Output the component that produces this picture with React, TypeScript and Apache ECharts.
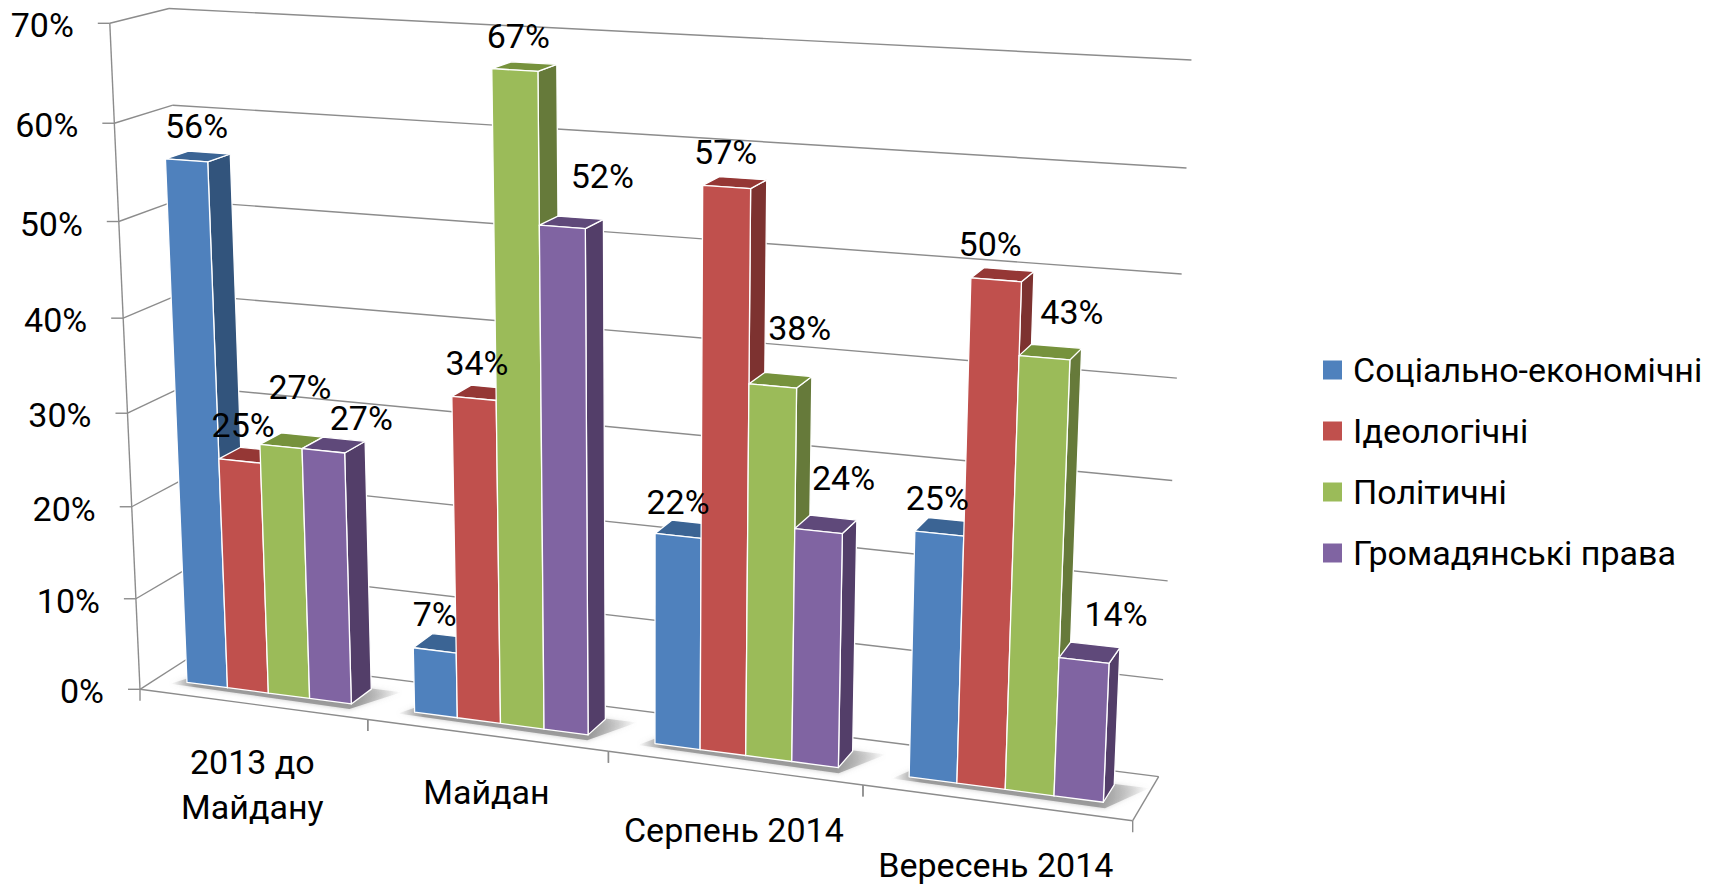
import React, { useEffect, useRef } from "react";
import * as echarts from "echarts";

const categories = ["2013 до\nМайдану", "Майдан", "Серпень 2014", "Вересень 2014"];
const seriesNames = ["Соціально-економічні", "Ідеологічні", "Політичні", "Громадянські права"];
const socioEconomic = [56, 7, 22, 25];
const ideological = [25, 34, 57, 50];
const political = [27, 67, 38, 43];
const civilRights = [27, 52, 24, 14];
const valueTicks = [0, 10, 20, 30, 40, 50, 60, 70];

const seriesValues = [socioEconomic, ideological, political, civilRights];
const frontColors = ["#4F81BD", "#C0504D", "#9BBB59", "#8064A2"];
const sideColors = ["#32547C", "#7D3230", "#667A3A", "#533E69"];
const topColors = ["#3B6494", "#953735", "#76923C", "#5F497A"];

// label placement relative to the top of each bar's front face (series, then category)
const labelShift = [
  [[10, -34], [0, -36], [0, -34], [-2, -36]],
  [[3.5, -36], [3, -35], [-1, -35], [-6, -36]],
  [[19, -60], [3.5, -34], [27, -58], [27.5, -46]],
  [[38, -32.5], [40, -51], [25, -53], [32, -46]],
];
const categoryLabelShift = [59, 58, 64, 64];

const FONT = "Roboto";
const FS = 34;
const GRID = "#8C8C8C";

// projective camera: corners of the 3D box on the page
const A = [140, 689.3];
const E = [1132.7, 820.7];
const B = [109.8, 23.3];
const C = [195, 654];
const wE = 0.8935;
const wB = 0.944;
const wC = 1.033;

function project(u: number, v: number, w: number): number[] {
  const x = A[0] + u * (wE * E[0] - A[0]) + v * (wB * B[0] - A[0]) + w * (wC * C[0] - A[0]);
  const y = A[1] + u * (wE * E[1] - A[1]) + v * (wB * B[1] - A[1]) + w * (wC * C[1] - A[1]);
  const d = 1 + u * (wE - 1) + v * (wB - 1) + w * (wC - 1);
  return [x / d, y / d];
}

const BAR_U = 0.25 / 5.5;
const W_FRONT = 0.3;
const W_BACK = 0.7;

function norm(api: any, params: any, cat: number, val: number) {
  const rect = params.coordSys;
  const p = api.coord([cat, val]);
  return [(p[0] - rect.x) / rect.width, (rect.y + rect.height - p[1]) / rect.height];
}

function poly(points: number[][], fill: any, extra: any = {}) {
  return {
    type: "polygon",
    shape: { points },
    style: { fill, stroke: "#FFFFFF", lineWidth: 1.3, lineJoin: "round", ...extra },
  };
}

function seg(a: number[], b: number[]) {
  return {
    type: "line",
    shape: { x1: a[0], y1: a[1], x2: b[0], y2: b[1] },
    style: { stroke: GRID, lineWidth: 1.4 },
  };
}

function barRenderer(s: number) {
  return (params: any, api: any) => {
    const cat = api.value(0);
    const val = api.value(1);
    const [uc, v] = norm(api, params, cat, val);
    const u0 = uc + (s - 2) * BAR_U;
    const u1 = u0 + BAR_U;
    const f0 = project(u0, 0, W_FRONT);
    const f1 = project(u1, 0, W_FRONT);
    const f2 = project(u1, v, W_FRONT);
    const f3 = project(u0, v, W_FRONT);
    const b0 = project(u1, 0, W_BACK);
    const b1 = project(u1, v, W_BACK);
    const b2 = project(u0, v, W_BACK);
    const c = project(uc + (s - 1.5) * BAR_U, v, W_FRONT);
    const shift = labelShift[s][cat];
    return {
      type: "group",
      children: [
        poly([f1, b0, b1, f2], sideColors[s]),
        poly([f3, f2, b1, b2], topColors[s]),
        poly([f0, f1, f2, f3], frontColors[s]),
        {
          type: "text",
          z2: 100,
          x: c[0] + shift[0],
          y: c[1] + shift[1],
          style: {
            text: val + "%",
            fill: "#000000",
            fontFamily: FONT,
            fontSize: FS,
            align: "center",
            verticalAlign: "middle",
          },
        },
      ],
    };
  };
}

function shadowRenderer(params: any, api: any) {
  const cat = api.value(0);
  const [uc] = norm(api, params, cat, 0);
  const pts = [
    project(uc - 2.3 * BAR_U, 0, 0.22),
    project(uc + 2.1 * BAR_U, 0, 0.18),
    project(uc + 2.7 * BAR_U, 0, W_BACK + 0.02),
    project(uc - 1.8 * BAR_U, 0, W_BACK),
  ];
  return {
    type: "polygon",
    shape: { points: pts },
    style: {
      fill: new echarts.graphic.LinearGradient(0, 0, 1, 0, [
        { offset: 0, color: "rgba(140,140,140,0)" },
        { offset: 0.11, color: "rgba(140,140,140,0.8)" },
        { offset: 0.8, color: "rgba(140,140,140,0.8)" },
        { offset: 1, color: "rgba(140,140,140,0)" },
      ]),
      shadowBlur: 5,
      shadowColor: "rgba(140,140,140,0.6)",
    },
  };
}

function valueAxisRenderer(params: any, api: any) {
  const val = api.value(0);
  const [, v] = norm(api, params, 0, val);
  const front = project(0, v, 0);
  const backL = project(0, v, 1);
  const backR = project(1, v, 1);
  const tickEnd = [front[0] - 12, front[1]];
  return {
    type: "group",
    children: [
      seg(front, backL),
      seg(backL, backR),
      seg(tickEnd, front),
      {
        type: "text",
        x: tickEnd[0] - 24,
        y: front[1] + 2,
        style: {
          text: val + "%",
          fill: "#000000",
          fontFamily: FONT,
          fontSize: FS,
          align: "right",
          verticalAlign: "middle",
        },
      },
    ],
  };
}

function categoryRenderer(params: any, api: any) {
  const cat = api.value(0);
  const [uc] = norm(api, params, cat, 0);
  const left = project(uc - 0.125, 0, 0);
  const right = project(uc + 0.125, 0, 0);
  const mid = project(uc, 0, 0);
  const children: any[] = [
    seg(left, right),
    seg(left, [left[0], left[1] + 11.5]),
    seg(right, [right[0], right[1] + 11.5]),
    {
      type: "text",
      x: mid[0],
      y: mid[1] + categoryLabelShift[cat] - 24,
      style: {
        text: categories[cat],
        fill: "#000000",
        fontFamily: FONT,
        fontSize: FS,
        lineHeight: 45,
        align: "center",
        verticalAlign: "top",
      },
    },
  ];
  if (cat === categories.length - 1) {
    children.push(seg(project(1, 0, 0), project(1, 0, 1)));
  }
  return { type: "group", children };
}

function axisLineRenderer(params: any, api: any) {
  const [, v] = norm(api, params, 0, api.value(0));
  return seg(project(0, 0, 0), project(0, v, 0));
}

export default function App() {
  const ref = useRef<HTMLDivElement>(null);
  useEffect(() => {
    const chart = echarts.init(ref.current!, undefined, { renderer: "svg" });
    const bars = seriesNames.map((name, s) => ({
      name,
      type: "custom",
      coordinateSystem: "cartesian2d",
      itemStyle: { color: frontColors[s] },
      renderItem: barRenderer(s),
      data: seriesValues[s].map((v, i) => [i, v]),
      z: 5,
      clip: false,
    }));
    chart.setOption({
      animation: false,
      backgroundColor: "#FFFFFF",
      grid: { left: 100, right: 100, top: 50, bottom: 50 },
      xAxis: { type: "category", data: categories, show: false },
      yAxis: { type: "value", min: 0, max: 70, interval: 10, show: false },
      legend: {
        orient: "vertical",
        left: 1323,
        top: 353,
        padding: 0,
        icon: "rect",
        itemWidth: 19,
        itemHeight: 19,
        itemGap: 27,
        selectedMode: false,
        data: seriesNames,
        textStyle: { fontFamily: FONT, fontSize: FS, color: "#000000", padding: [0, 0, 0, 6] },
      },
      series: [
        {
          type: "custom",
          coordinateSystem: "cartesian2d",
          renderItem: valueAxisRenderer,
          data: valueTicks.map((t) => [t]),
          encode: { x: -1, y: 0 },
          z: 1,
          clip: false,
        },
        {
          type: "custom",
          coordinateSystem: "cartesian2d",
          renderItem: axisLineRenderer,
          data: [[valueTicks[valueTicks.length - 1]]],
          encode: { x: -1, y: 0 },
          z: 1,
          clip: false,
        },
        {
          type: "custom",
          coordinateSystem: "cartesian2d",
          renderItem: categoryRenderer,
          data: categories.map((_, i) => [i]),
          encode: { x: 0, y: -1 },
          z: 1,
          clip: false,
        },
        {
          type: "custom",
          coordinateSystem: "cartesian2d",
          renderItem: shadowRenderer,
          data: categories.map((_, i) => [i]),
          encode: { x: 0, y: -1 },
          z: 2,
          clip: false,
        },
        ...bars,
      ],
    });
    return () => chart.dispose();
  }, []);
  return <div ref={ref} style={{ position: "fixed", left: 0, top: 0, width: 1719, height: 885 }} />;
}
